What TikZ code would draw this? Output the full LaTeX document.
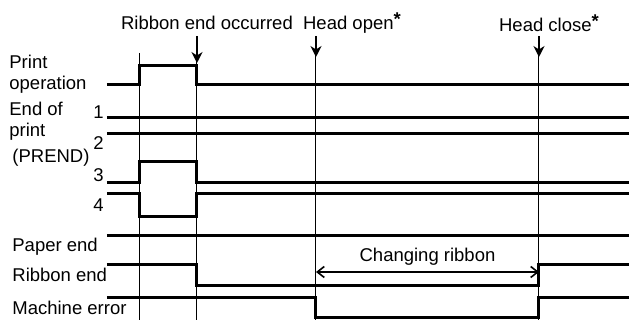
\documentclass[tikz,border=0pt]{standalone}
\usepackage{fontspec}
\setmainfont{Liberation Sans}
\usetikzlibrary{arrows.meta}

\begin{document}
\begin{tikzpicture}[x=0.5pt,y=-0.5pt,
    sig/.style={line width=1.5pt},
    guide/.style={line width=0.5pt},
    evt/.style={line width=0.9pt,-{Stealth[length=5.5pt,width=5.5pt]}},
    lbl/.style={inner sep=0pt,font=\fontsize{9.25}{10.5}\selectfont,align=left}]
    \useasboundingbox (0,0) rectangle (629,320);
    % signal names
    \node[lbl,anchor=west] (po) at (9,74) {Print\\operation};
    \node[lbl,anchor=west] (eop) at (9,121) {End of\\print};
    \node[lbl,anchor=west] (prend) at (12,158) {(PREND)};
    \node[lbl,anchor=east] (n1) at (104,112) {1};
    \node[lbl,anchor=east] (n2) at (104,143) {2};
    \node[lbl,anchor=east] (n3) at (104,175) {3};
    \node[lbl,anchor=east] (n4) at (104,205) {4};
    \node[lbl,anchor=west] (pe) at (12,247) {Paper end};
    \node[lbl,anchor=west] (re) at (12,275) {Ribbon end};
    \node[lbl,anchor=west] (me) at (12,308) {Machine error};
    % events
    \node[lbl] (reo) at (207,23) {Ribbon end occurred};
    \node[lbl] (hop) at (352,23) {Head open\raisebox{0.45ex}{\bfseries *}};
    \node[lbl] (hcl) at (549,23) {Head close\raisebox{0.45ex}{\bfseries *}};
    \coordinate (t2) at (197,36);
    \coordinate (t3) at (316,36);
    \coordinate (t4) at (539,36);
    \coordinate (t2e) at (197,63);
    \coordinate (t3e) at (316,57);
    \coordinate (t4e) at (539,57);
    \foreach \x/\y in {140/53,197/36,316/36,539/36}
        \draw[guide] (\x,\y) -- (\x,320);
    \draw[evt] (t2) -- (t2e);
    \draw[evt] (t3) -- (t3e);
    \draw[evt] (t4) -- (t4e);
    % waveforms
    \draw[sig] (107,85) -- (140,85) -- (140,66) -- (197,66) -- (197,85) -- (629,85);
    \draw[sig] (107,118) -- (629,118);
    \draw[sig] (107,134) -- (629,134);
    \draw[sig] (107,183) -- (140,183) -- (140,162) -- (197,162) -- (197,183) -- (629,183);
    \draw[sig] (107,194) -- (140,194) -- (140,217) -- (197,217) -- (197,194) -- (629,194);
    \draw[sig] (107,236) -- (629,236);
    \draw[sig] (107,265) -- (197,265) -- (197,286) -- (539,286) -- (539,265) -- (629,265);
    \draw[sig] (107,298) -- (316,298) -- (316,318) -- (539,318) -- (539,298) -- (629,298);
    \coordinate (cr1) at (316,272);
    \coordinate (cr2) at (539,272);
    \draw[line width=0.8pt,{Straight Barb[length=3.5pt,width=5.5pt]}-{Straight Barb[length=3.5pt,width=5.5pt]}]
        (cr1) -- (cr2) node[lbl,midway,above=3pt] (cr) {Changing ribbon};
\end{tikzpicture}
\end{document}
